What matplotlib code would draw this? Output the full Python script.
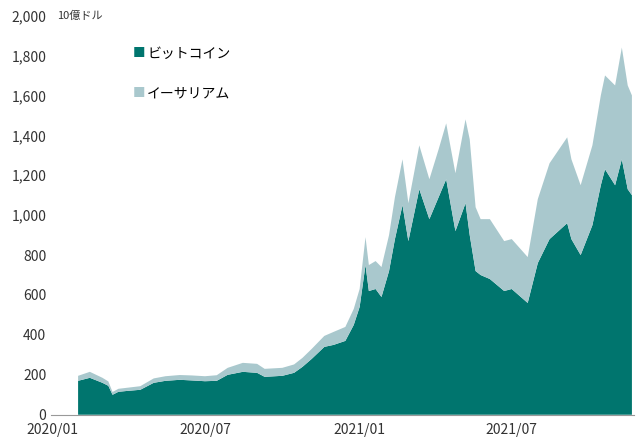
import matplotlib
matplotlib.use("Agg")
import matplotlib.pyplot as plt
import matplotlib.dates as mdates
import pandas as pd
from matplotlib.ticker import FuncFormatter

plt.rcParams['font.family'] = ['Noto Sans CJK JP', 'DejaVu Sans']

dates = ["2020-02-01","2020-02-15","2020-03-01","2020-03-08","2020-03-13","2020-03-20","2020-04-01","2020-04-15",
         "2020-05-01","2020-05-15","2020-06-01","2020-06-15","2020-07-01","2020-07-15","2020-07-28","2020-08-15",
         "2020-09-01","2020-09-10","2020-10-01","2020-10-15","2020-10-25","2020-11-05","2020-11-20","2020-12-01",
         "2020-12-15","2020-12-25","2021-01-01","2021-01-08","2021-01-12","2021-01-20","2021-01-27","2021-02-05",
         "2021-02-12","2021-02-21","2021-02-28","2021-03-13","2021-03-25","2021-04-05","2021-04-14","2021-04-25",
         "2021-05-07","2021-05-12","2021-05-19","2021-05-25","2021-06-05","2021-06-22","2021-07-01","2021-07-20",
         "2021-08-01","2021-08-15","2021-09-05","2021-09-10","2021-09-21","2021-10-05","2021-10-15","2021-10-20",
         "2021-11-01","2021-11-09","2021-11-16","2021-11-21"]
btc = [170,185,160,145,100,115,120,125,160,170,175,172,168,170,200,215,210,190,195,210,240,280,340,350,
       370,450,540,750,620,630,590,720,880,1050,870,1130,980,1090,1180,920,1060,900,720,700,680,620,630,560,
       760,880,960,880,800,950,1150,1230,1150,1280,1130,1100]
eth = [25,30,25,22,14,15,16,18,22,23,24,25,25,28,35,45,45,40,40,42,45,50,55,65,
       70,80,90,140,130,140,150,180,210,230,190,220,200,240,280,290,420,480,320,280,300,250,250,230,
       320,380,430,400,350,400,450,470,500,560,520,500]

d = pd.to_datetime(dates)
fig, ax = plt.subplots(figsize=(6.4, 4.45), dpi=100)
fig.subplots_adjust(left=0.08, right=0.99, top=0.965, bottom=0.068)
ax.stackplot(d, btc, eth, colors=['#00756e', '#a9c8cd'], linewidth=0)
ax.set_ylim(0, 2000)
ax.set_yticks(range(0, 2001, 200))
ax.yaxis.set_major_formatter(FuncFormatter(lambda v, p: f"{int(v):,}"))
ax.set_xlim(pd.Timestamp("2019-12-31"), pd.Timestamp("2021-11-23"))
ax.set_xticks(pd.to_datetime(["2020-01-01","2020-07-01","2021-01-01","2021-07-01"]))
ax.xaxis.set_major_formatter(mdates.DateFormatter("%Y/%m"))
for s in ['top','right','left']:
    ax.spines[s].set_visible(False)
ax.spines['bottom'].set_color('#999999')
ax.tick_params(axis='both', length=0, labelsize=10, colors='#333333')
ax.tick_params(axis='x', pad=6)
ax.text(0.01, 1.0, "10億ドル", transform=ax.transAxes, fontsize=8, va='center', color='#333333')
ax.text(0.14, 0.905, "■", transform=ax.transAxes, color='#00756e', fontsize=9, va='center')
ax.text(0.165, 0.905, "ビットコイン", transform=ax.transAxes, fontsize=10, va='center')
ax.text(0.14, 0.805, "■", transform=ax.transAxes, color='#a9c8cd', fontsize=9, va='center')
ax.text(0.165, 0.805, "イーサリアム", transform=ax.transAxes, fontsize=10, va='center')
fig.savefig("out.png")
